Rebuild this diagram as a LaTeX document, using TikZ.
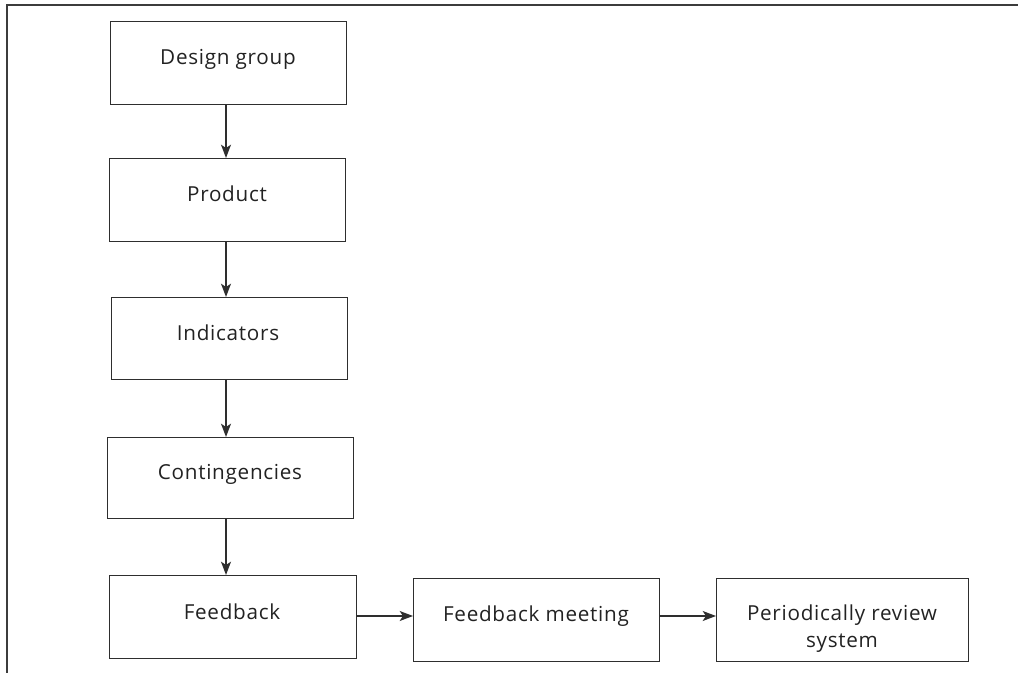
\documentclass[tikz,border=0pt]{standalone}
\usepackage{fontspec}
\setmainfont{Open Sans}[LetterSpace=3.5]
\usetikzlibrary{arrows.meta}
\definecolor{ln}{HTML}{2E2E2E}
\definecolor{fr}{HTML}{3C3C3C}
\definecolor{tx}{HTML}{222222}
\begin{document}
\begin{tikzpicture}[x=0.75pt,y=-0.75pt,
  box/.style={draw=ln, line width=1.1pt, inner sep=0pt, anchor=north west},
  lbl/.style={anchor=base, inner sep=0pt, text=tx, font=\fontsize{15.5}{19}\selectfont},
  arr/.style={draw=ln, line width=1.1pt, -{Stealth[length=10pt,width=7.5pt,inset=2.5pt]}},
  frame/.style={draw=fr, line width=1.7pt}]
\useasboundingbox (0,0) rectangle (1018,673);
% frame
\coordinate (fb) at (7,673);
\coordinate (fc) at (7,5);
\coordinate (fe) at (1018,5);
\draw[frame] (fb) -- (fc) -- (fe);
% boxes
\node[box, minimum width=236*0.75pt, minimum height=83*0.75pt] (b1) at (110,21) {};
\node[box, minimum width=236*0.75pt, minimum height=83*0.75pt] (b2) at (109,158) {};
\node[box, minimum width=236*0.75pt, minimum height=82*0.75pt] (b3) at (111,297) {};
\node[box, minimum width=246*0.75pt, minimum height=81*0.75pt] (b4) at (107,437) {};
\node[box, minimum width=247*0.75pt, minimum height=83*0.75pt] (b5) at (109,575) {};
\node[box, minimum width=246*0.75pt, minimum height=83*0.75pt] (b6) at (413,578) {};
\node[box, minimum width=252*0.75pt, minimum height=83*0.75pt] (b7) at (716,578) {};
% labels
\node[lbl] (t1) at (228,65) {Design group};
\node[lbl] (t2) at (227,202) {Product};
\node[lbl] (t3) at (228,341) {Indicators};
\node[lbl] (t4) at (230,480) {Contingencies};
\node[lbl] (t5) at (232,619) {Feedback};
\node[lbl] (t6) at (536,621) {Feedback meeting};
\node[lbl] (t7a) at (842,620) {Periodically review};
\node[lbl] (t7b) at (842,647) {system};
% connectors
\coordinate (ax) at (226,0);
\coordinate (ay) at (0,616);
\draw[arr] (b1.south -| ax) -- (b2.north -| ax);
\draw[arr] (b2.south -| ax) -- (b3.north -| ax);
\draw[arr] (b3.south -| ax) -- (b4.north -| ax);
\draw[arr] (b4.south -| ax) -- (b5.north -| ax);
\draw[arr] (b5.east |- ay) -- (b6.west |- ay);
\draw[arr] (b6.east |- ay) -- (b7.west |- ay);
\end{tikzpicture}
\end{document}
